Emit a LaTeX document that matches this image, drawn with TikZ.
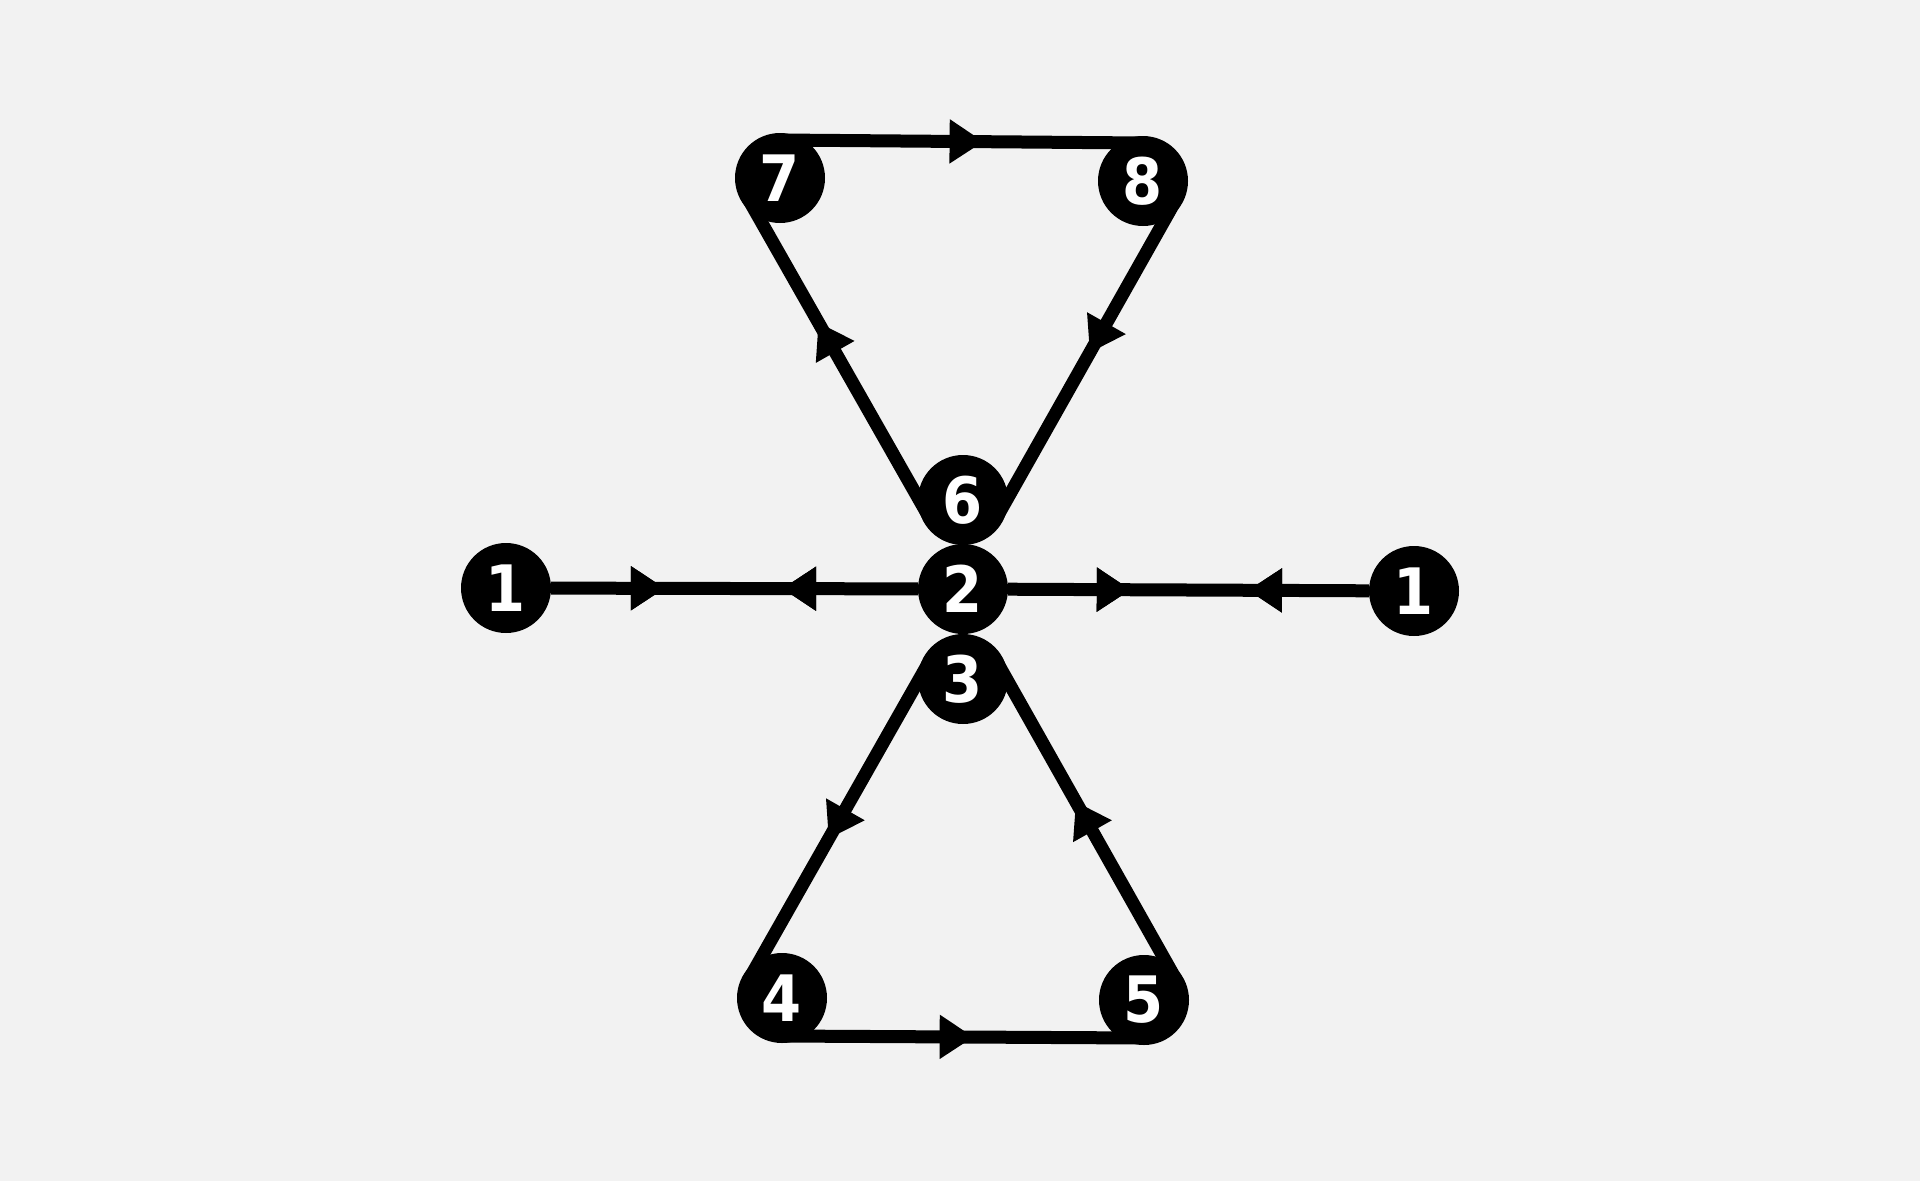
\documentclass[tikz,border=0pt]{standalone}
\usepackage{fontspec}
\setmainfont{DejaVu Sans Condensed}
\usetikzlibrary{calc,arrows.meta,decorations.markings}
\definecolor{paper}{HTML}{F2F2F2}
\tikzset{
  vertex/.style={circle, fill=black, minimum size=90pt, inner sep=0pt, text=white, font=\fontsize{64}{64}\selectfont\bfseries},
  edge/.style={line width=13pt},
  tipat/.style={postaction={decorate}, decoration={markings, mark=at position #1 with {\arrow{Triangle[width=42pt,length=34pt]}}}},
  tipback/.style={postaction={decorate}, decoration={markings, mark=at position #1 with {\arrowreversed{Triangle[width=42pt,length=34pt]}}}}
}
\begin{document}
\begin{tikzpicture}[x=1pt, y=-1pt]
		%%%%% START %%%%%
		
		\fill[paper] (0, 0) rectangle (1920, 1181);
		\useasboundingbox (0, 0) rectangle (1920, 1181);
		
		\node[vertex] (n1a) at (506, 588) {1};
		\node[vertex] (n2) at (963, 589) {2};
		\node[vertex] (n1b) at (1414, 591) {1};
		\node[vertex] (n6) at (963, 500) {6};
		\node[vertex] (n3) at (963, 679) {3};
		\node[vertex] (n7) at (780, 178) {7};
		\node[vertex] (n8) at (1143, 181) {8};
		\node[vertex] (n4) at (782, 998) {4};
		\node[vertex] (n5) at (1144, 1000) {5};
		
		\draw[edge, tipat=0.31, tipback=0.63] (n1a) -- (n2);
		\draw[edge, tipat=0.34, tipback=0.665] (n2) -- (n1b);
		
		\draw[edge, tipat=0.61] ($(n6)!38pt!90:(n7)$) -- ($(n7)!38pt!-90:(n6)$);
		\draw[edge, tipat=0.56] ($(n7)!38pt!90:(n8)$) -- ($(n8)!38pt!-90:(n7)$);
		\draw[edge, tipat=0.48] ($(n8)!38pt!90:(n6)$) -- ($(n6)!38pt!-90:(n8)$);
		
		\draw[edge, tipat=0.56] ($(n3)!38pt!-90:(n4)$) -- ($(n4)!38pt!90:(n3)$);
		\draw[edge, tipat=0.53] ($(n4)!38pt!-90:(n5)$) -- ($(n5)!38pt!90:(n4)$);
		\draw[edge, tipat=0.56] ($(n5)!38pt!-90:(n3)$) -- ($(n3)!38pt!90:(n5)$);
		
		%%%%% END %%%%%
	\end{tikzpicture}
\end{document}
